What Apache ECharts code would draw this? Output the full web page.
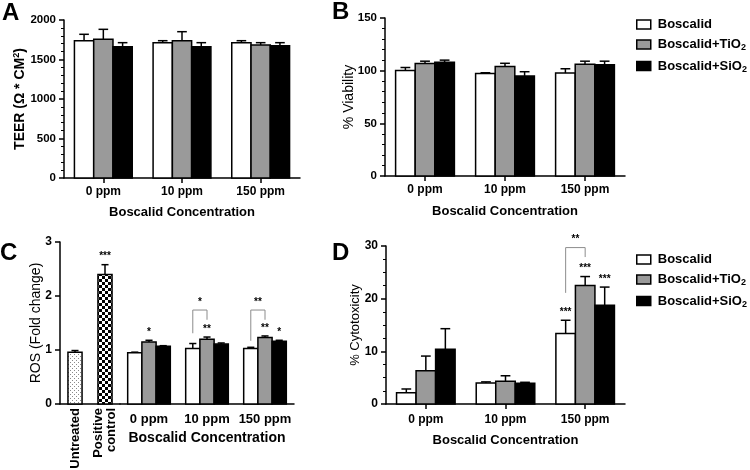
<!DOCTYPE html>
<html><head><meta charset="utf-8">
<script src="https://cdn.jsdelivr.net/npm/echarts@6/dist/echarts.min.js"></script>
<style>html,body{margin:0;padding:0;background:#fff}#c{width:750px;height:470px}</style>
</head><body><div id="c"></div>
<script>
// ---------------- DATA ----------------
const categories = ['0 ppm', '10 ppm', '150 ppm'];
const seriesNames = ['Boscalid', 'Boscalid+TiO2', 'Boscalid+SiO2'];
const controlCategories = ['Untreated', 'Positive\ncontrol'];

// Panel A: TEER (per series, across categories)
const teerMeans = [[1738, 1713, 1713], [1756, 1738, 1684], [1662, 1662, 1675]];
const teerErrs  = [[81, 25, 25], [126, 114, 29], [51, 51, 38]];
const teerTicks = [0, 500, 1000, 1500, 2000];

// Panel B: % Viability
const viaMeans = [[100.2, 97.3, 97.7], [106.8, 104.0, 106.2], [108.1, 95.0, 105.6]];
const viaErrs  = [[2.8, 0.7, 4.1], [2.2, 3.0, 2.8], [1.9, 4.0, 3.4]];
const viaTicks = [0, 50, 100, 150];

// Panel C: ROS (fold change)
const controlMeans = [0.96, 2.40];
const controlErrs  = [0.03, 0.18];
const controlStars = ['', '***'];
const rosMeans = [[0.95, 1.03, 1.03], [1.15, 1.20, 1.23], [1.07, 1.11, 1.16]];
const rosErrs  = [[0.01, 0.09, 0.02], [0.03, 0.04, 0.03], [0.01, 0.02, 0.02]];
const rosStars = [['', '', ''], ['*', '**', '**'], ['', '', '*']];
const rosBrackets = [
  {cat: 1, from: 0, to: 1, top: 1.74, left: 1.31, right: 1.56, label: '*'},
  {cat: 2, from: 0, to: 1, top: 1.74, left: 1.17, right: 1.56, label: '**'}
];
const rosTicks = [0, 1, 2, 3];

// Panel D: % Cytotoxicity
const ldhMeans = [[2.15, 3.98, 13.4], [6.3, 4.3, 22.5], [10.4, 3.92, 18.75]];
const ldhErrs  = [[0.7, 0.22, 2.5], [2.8, 1.06, 1.7], [3.9, 0.2, 3.45]];
const ldhStars = [['', '', '***'], ['', '', '***'], ['', '', '***']];
const ldhBrackets = [
  {cat: 2, from: 0, to: 1, top: 29.7, left: 21.1, right: 27.9, label: '**'}
];
const ldhTicks = [0, 10, 20, 30];

// ---------------- STYLE ----------------
const FONT = '"Liberation Sans", Arial, Helvetica, sans-serif';
const fills = ['#ffffff', '#9a9a9a', '#000000'];

function makePattern(kind) {
  const c = document.createElement('canvas');
  if (kind === 'dots') {
    c.width = 4; c.height = 4;
    const g = c.getContext('2d');
    g.fillStyle = '#ffffff'; g.fillRect(0, 0, 4, 4);
    g.fillStyle = '#8a8a8a'; g.fillRect(0, 0, 1, 1); g.fillRect(2, 2, 1, 1);
  } else {
    c.width = 6; c.height = 6;
    const g = c.getContext('2d');
    g.fillStyle = '#ffffff'; g.fillRect(0, 0, 6, 6);
    g.fillStyle = '#000000'; g.fillRect(0, 0, 3, 3); g.fillRect(3, 3, 3, 3);
  }
  return {image: c, repeat: 'repeat'};
}
const controlFills = [makePattern('dots'), makePattern('check')];

function barGroup(api, cx, bw, v, e, fill, stars) {
  const base = api.coord([api.value(0), 0]);
  const top = api.coord([api.value(0), v]);
  const et = api.coord([api.value(0), v + e]);
  const cap = bw * 0.5;
  const children = [
    {type: 'rect', shape: {x: cx - bw / 2, y: top[1], width: bw, height: base[1] - top[1]},
     style: {fill: fill, stroke: '#000', lineWidth: 1.5}},
    {type: 'line', shape: {x1: cx, y1: top[1], x2: cx, y2: et[1]}, style: {stroke: '#000', lineWidth: 1.5}},
    {type: 'line', shape: {x1: cx - cap / 2, y1: et[1], x2: cx + cap / 2, y2: et[1]}, style: {stroke: '#000', lineWidth: 1.5}}
  ];
  if (stars) {
    children.push({type: 'text', style: {text: stars, x: cx, y: et[1] - 3, align: 'center', verticalAlign: 'bottom',
      font: 'bold 10px ' + FONT, fill: '#000'}});
  }
  return {type: 'group', children: children};
}

function groupedRender(sIndex, nSeries, ratio, starsArr) {
  return function (params, api) {
    const ci = api.value(0);
    const base = api.coord([ci, 0]);
    const band = api.size([1, 0])[0];
    const bw = band * ratio;
    const cx = base[0] + (sIndex - (nSeries - 1) / 2) * bw;
    const stars = starsArr ? starsArr[sIndex][params.dataIndex] : '';
    return barGroup(api, cx, bw, api.value(1), api.value(2), fills[sIndex], stars);
  };
}

function controlRender(params, api) {
  const ci = api.value(0);
  const base = api.coord([ci, 0]);
  const band = api.size([1, 0])[0];
  const bw = band * 0.47;
  return barGroup(api, base[0], bw, api.value(1), api.value(2), controlFills[params.dataIndex], controlStars[params.dataIndex]);
}

function bracketRender(list, nSeries, ratio) {
  return function (params, api) {
    const b = list[params.dataIndex];
    const c = api.coord([b.cat, 0]);
    const band = api.size([1, 0])[0];
    const bw = band * ratio;
    const xl = c[0] + (b.from - (nSeries - 1) / 2) * bw;
    const xr = c[0] + (b.to - (nSeries - 1) / 2) * bw;
    const yt = api.coord([b.cat, b.top])[1];
    const yl = api.coord([b.cat, b.left])[1];
    const yr = api.coord([b.cat, b.right])[1];
    return {type: 'group', children: [
      {type: 'polyline', shape: {points: [[xl, yl], [xl, yt], [xr, yt], [xr, yr]]},
       style: {stroke: '#8c8c8c', lineWidth: 1, fill: null}},
      {type: 'text', style: {text: b.label, x: (xl + xr) / 2, y: yt - 3, align: 'center', verticalAlign: 'bottom',
        font: 'bold 10px ' + FONT, fill: '#000'}}
    ]};
  };
}

function triples(means, errs) {
  return means.map((v, i) => [i, v, errs[i]]);
}

const axisLineStyle = {show: true, lineStyle: {color: '#000', width: 1.5}};

function yAxisCfg(gi, ticks, minorSplit, labelSize, name, nameStyle, nameGap) {
  return {
    type: 'value', gridIndex: gi, min: ticks[0], max: ticks[ticks.length - 1],
    interval: ticks[1] - ticks[0],
    axisLine: axisLineStyle,
    axisTick: {show: true, length: 5, lineStyle: {color: '#000', width: 1.5}},
    minorTick: {show: minorSplit > 0, splitNumber: minorSplit || 1, length: 3, lineStyle: {color: '#000', width: 1}},
    splitLine: {show: false},
    axisLabel: {color: '#000', fontFamily: FONT, fontWeight: 'bold', fontSize: labelSize, margin: 8,
      formatter: function (v) { return String(v); }},
    name: name, nameLocation: 'middle', nameGap: nameGap, nameMoveOverlap: false,
    nameTextStyle: nameStyle
  };
}

function xAxisCfg(gi, cats, labelSize, name, nameSize, nameGap, extra) {
  return Object.assign({
    type: 'category', gridIndex: gi, data: cats,
    axisLine: axisLineStyle,
    axisTick: {show: true, alignWithLabel: true, length: 5, lineStyle: {color: '#000', width: 1.5}},
    splitLine: {show: false},
    axisLabel: {color: '#000', fontFamily: FONT, fontWeight: 'bold', fontSize: labelSize, margin: 8, interval: 0},
    name: name, nameLocation: 'middle', nameGap: nameGap, nameMoveOverlap: false,
    nameTextStyle: {color: '#000', fontFamily: FONT, fontWeight: 'bold', fontSize: nameSize}
  }, extra || {});
}

const nameReg = (size) => ({color: '#000', fontFamily: FONT, fontSize: size});

const RATIO = 0.245;
const series = [];
function addGroup(gi, means, errs, stars) {
  means.forEach((m, s) => {
    series.push({
      type: 'custom', name: seriesNames[s], xAxisIndex: gi, yAxisIndex: gi,
      itemStyle: {color: fills[s], borderColor: '#000'},
      renderItem: groupedRender(s, 3, RATIO, stars),
      encode: {x: 0, y: 1},
      data: triples(m, errs[s]), z: 2
    });
  });
}
// grid indices: 0=A, 1=B, 2=C controls, 3=C groups, 4=D
addGroup(0, teerMeans, teerErrs, null);
addGroup(1, viaMeans, viaErrs, null);
addGroup(3, rosMeans, rosErrs, rosStars);
addGroup(4, ldhMeans, ldhErrs, ldhStars);
series.push({
  type: 'custom', name: 'Controls', xAxisIndex: 2, yAxisIndex: 2,
  renderItem: controlRender, encode: {x: 0, y: 1},
  data: triples(controlMeans, controlErrs)
});
series.push({
  type: 'custom', name: 'rosBrackets', xAxisIndex: 3, yAxisIndex: 3,
  renderItem: bracketRender(rosBrackets, 3, RATIO), encode: {x: 0, y: 1},
  data: rosBrackets.map(b => [b.cat, b.top])
});
series.push({
  type: 'custom', name: 'ldhBrackets', xAxisIndex: 4, yAxisIndex: 4,
  renderItem: bracketRender(ldhBrackets, 3, RATIO), encode: {x: 0, y: 1},
  data: ldhBrackets.map(b => [b.cat, b.top])
});

function legendCfg(top) {
  return {
    orient: 'vertical', left: 631, top: top, itemWidth: 14, itemHeight: 9, itemGap: 7,
    selectedMode: false,
    data: seriesNames.map((n, i) => ({name: n, icon: 'rect',
      itemStyle: {color: fills[i], borderColor: '#000', borderWidth: 1.5}})),
    formatter: function (n) {
      return n.endsWith('2') ? '{b|' + n.slice(0, -1) + '}{s|2}' : '{b|' + n + '}';
    },
    textStyle: {color: '#000', rich: {
      b: {fontFamily: FONT, fontWeight: 'bold', fontSize: 13, color: '#000', padding: [0, 0, 0, 2]},
      s: {fontFamily: FONT, fontWeight: 'bold', fontSize: 9, color: '#000', padding: [7, 0, 0, 0]}
    }}
  };
}

const letterStyle = {fontFamily: FONT, fontWeight: 'bold', fontSize: 24, color: '#000'};

const option = {
  animation: false,
  backgroundColor: '#fff',
  title: [
    {text: 'A', left: 2, top: 1, textStyle: letterStyle, padding: 0},
    {text: 'B', left: 332, top: 0, textStyle: letterStyle, padding: 0},
    {text: 'C', left: 0, top: 241, textStyle: letterStyle, padding: 0},
    {text: 'D', left: 332, top: 241, textStyle: letterStyle, padding: 0}
  ],
  legend: [legendCfg(13), legendCfg(248)],
  grid: [
    {left: 64, top: 20, width: 236, height: 158, outerBoundsMode: 'none', containLabel: false},
    {left: 385, top: 18, width: 240, height: 158, outerBoundsMode: 'none', containLabel: false},
    {left: 60, top: 242, width: 60, height: 162, outerBoundsMode: 'none', containLabel: false},
    {left: 120, top: 242, width: 174, height: 162, outerBoundsMode: 'none', containLabel: false},
    {left: 386, top: 246, width: 239, height: 158, outerBoundsMode: 'none', containLabel: false}
  ],
  xAxis: [
    xAxisCfg(0, categories, 12, 'Boscalid Concentration', 13, 28),
    xAxisCfg(1, categories, 12, 'Boscalid Concentration', 13, 29),
    xAxisCfg(2, controlCategories, 13, '', 13, 20, {
      axisTick: {show: false},
      axisLabel: {color: '#000', fontFamily: FONT, fontWeight: 'bold', fontSize: 13, margin: 4, rotate: 90, interval: 0, lineHeight: 13}
    }),
    xAxisCfg(3, categories, 13, 'Boscalid Concentration', 14, 27, {
      axisTick: {show: false},
      axisLabel: {color: '#000', fontFamily: FONT, fontWeight: 'bold', fontSize: 13, margin: 9, interval: 0}
    }),
    xAxisCfg(4, categories, 12, 'Boscalid Concentration', 13, 30, {
      axisLabel: {color: '#000', fontFamily: FONT, fontWeight: 'bold', fontSize: 12, margin: 10, interval: 0}
    })
  ],
  yAxis: [
    yAxisCfg(0, teerTicks, 5, 11.5, '{t|TEER (Ω * CM}{sup|2}{t|)}', {color: '#000', rich: {
      t: {fontFamily: FONT, fontWeight: 'bold', fontSize: 14, color: '#000'},
      sup: {fontFamily: FONT, fontWeight: 'bold', fontSize: 9, color: '#000', padding: [0, 0, 7, 0]}
    }}, 36),
    yAxisCfg(1, viaTicks, 5, 11.5, '% Viability', nameReg(14), 29),
    yAxisCfg(2, rosTicks, 0, 12, 'ROS (Fold change)', nameReg(14), 17),
    Object.assign(yAxisCfg(3, rosTicks, 0, 12, '', {}, 10), {show: false}),
    yAxisCfg(4, ldhTicks, 4, 12, '% Cytotoxicity', nameReg(13), 24)
  ],
  series: series
};

const chart = echarts.init(document.getElementById('c'), null, {renderer: 'canvas'});
chart.setOption(option);
</script>
</body></html>
